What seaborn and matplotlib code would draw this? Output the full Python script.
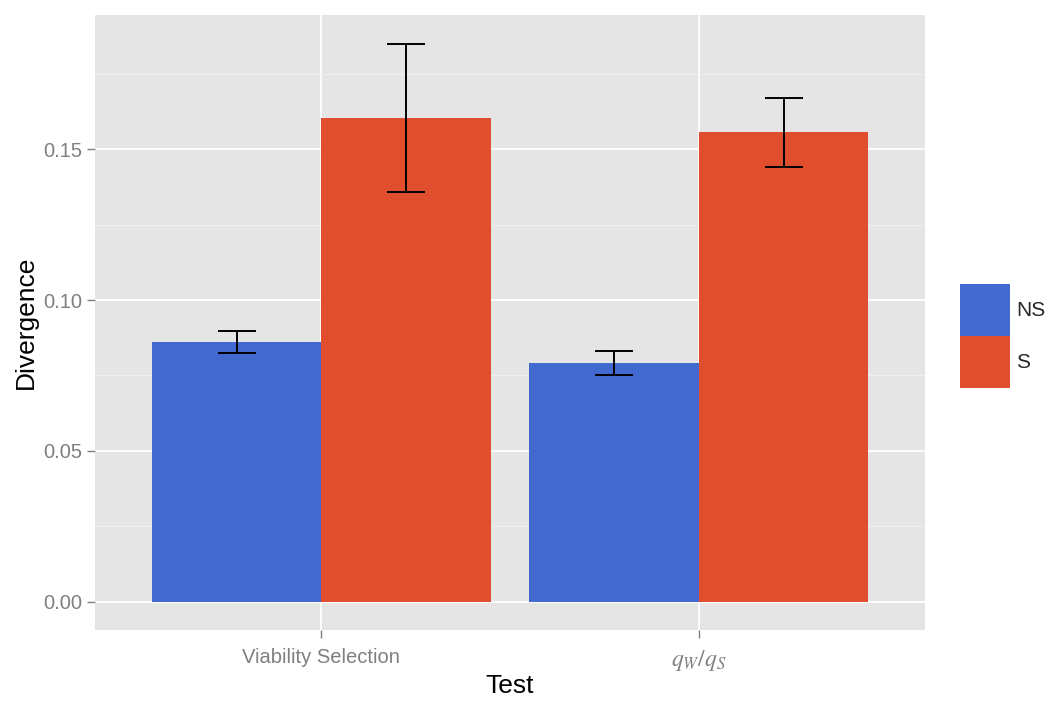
import matplotlib
matplotlib.use("Agg")
import matplotlib.pyplot as plt
import seaborn as sns
import pandas as pd

# данные
tests = ["Viability Selection", r"$q_W/q_S$"]
groups = ["NS", "S"]
divergence_ns = [0.0861, 0.0791]
divergence_s = [0.1603, 0.1556]
err_ns = [0.0038, 0.0040]
err_s = [0.0245, 0.0114]

colors = {"NS": "#4169cf", "S": "#e04e2e"}

df = pd.DataFrame({
    "Test": tests * 2,
    "Group": ["NS"] * 2 + ["S"] * 2,
    "Divergence": divergence_ns + divergence_s,
    "err": err_ns + err_s,
})

sns.set_theme(style="darkgrid")
plt.rcParams["font.family"] = ["Liberation Sans", "DejaVu Sans"]
plt.rcParams["mathtext.fontset"] = "stix"

fig = plt.figure(figsize=(10.5, 7.06), dpi=100)
ax = fig.add_axes([0.0905, 0.1076, 0.7905, 0.8712])
ax.set_facecolor("#e5e5e5")

sns.barplot(data=df, x="Test", y="Divergence", hue="Group", hue_order=groups,
            palette=colors, width=0.9, errorbar=None, saturation=1,
            linewidth=0, ax=ax)

# планки погрешностей по центрам столбцов
for container, grp in zip(ax.containers, groups):
    sub = df[df["Group"] == grp]
    xs = [p.get_x() + p.get_width() / 2 for p in container]
    ax.errorbar(xs, sub["Divergence"], yerr=sub["err"], fmt="none",
                ecolor="black", elinewidth=1.4, capsize=13.5, capthick=1.4,
                zorder=5)

ax.set_xlim(-0.6, 1.6)
ax.set_ylim(-0.0093, 0.1944)
ax.set_yticks([0.0, 0.05, 0.10, 0.15])
ax.set_yticklabels(["0.00", "0.05", "0.10", "0.15"])
ax.set_yticks([0.025, 0.075, 0.125, 0.175], minor=True)
ax.grid(True, which="major", color="white", linewidth=1.3)
ax.grid(True, which="minor", axis="y", color="#f2f2f2", linewidth=0.6)
ax.set_axisbelow(True)
for s in ax.spines.values():
    s.set_visible(False)

ax.tick_params(axis="both", which="major", colors="#7f7f7f", labelsize=14.5,
               length=6, width=1, pad=3, direction="out", bottom=True, left=True)
ax.tick_params(axis="x", which="major", pad=7)
ax.tick_params(axis="y", which="minor", length=0)
ax.xaxis.get_ticklabels()[1].set_fontsize(17)

ax.set_xlabel("Test", fontsize=19, color="black", labelpad=1)
ax.set_ylabel("Divergence", fontsize=19, color="black", labelpad=4)

handles, labels = ax.get_legend_handles_labels()
ax.legend(handles, labels, loc="center left", bbox_to_anchor=(0.904, 0.524),
          bbox_transform=fig.transFigure, frameon=False, fontsize=15,
          handlelength=2.4, handleheight=3.45, labelspacing=0.0,
          handletextpad=0.3, borderpad=0, title=None)

fig.savefig("out.png", dpi=100)
